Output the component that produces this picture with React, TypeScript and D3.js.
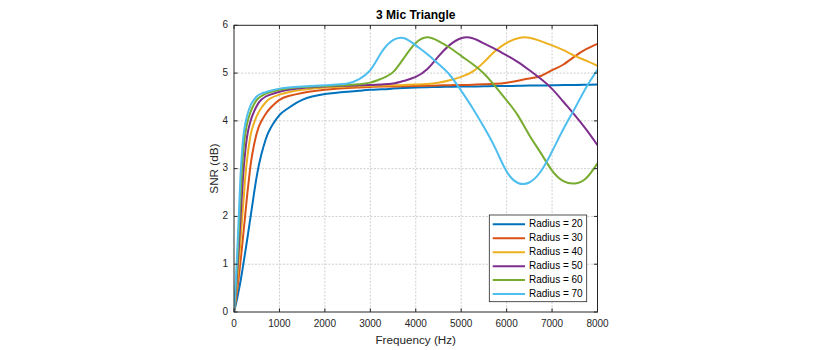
import { useMemo } from "react";
import * as d3 from "d3";

const WIDTH = 814;
const HEIGHT = 350;
const PLOT = { left: 234, right: 597.5, top: 25.3, bottom: 312 };
const FONT = "'Liberation Sans', Arial, Helvetica, sans-serif";
const INK = "#262626";

// Frequency samples (Hz) shared by every curve
const FREQ = [
  0, 25, 50, 75, 100, 125, 150, 200, 250, 300, 350, 400, 500, 600, 700, 800,
  1000, 1200, 1500, 2000, 2500, 2750, 3000, 3250, 3500, 3750, 4000, 4250, 4500,
  4750, 5000, 5250, 5500, 5750, 6000, 6250, 6500, 6750, 7000, 7250, 7500, 7750,
  8000,
];

// SNR (dB) per radius, one value per FREQ entry
const SNR_R20 = [
  0, 0.1, 0.2, 0.31, 0.43, 0.55, 0.68, 0.97, 1.27, 1.58, 1.9, 2.22, 2.84, 3.29,
  3.62, 3.84, 4.12, 4.27, 4.44, 4.56, 4.61, 4.63, 4.65, 4.66, 4.675, 4.69, 4.7,
  4.705, 4.71, 4.715, 4.72, 4.72, 4.725, 4.73, 4.73, 4.735, 4.74, 4.74, 4.745,
  4.75, 4.75, 4.755, 4.76,
];
const SNR_R30 = [
  0, 0.15, 0.31, 0.49, 0.68, 0.9, 1.12, 1.58, 2.06, 2.54, 2.96, 3.29, 3.74,
  3.99, 4.15, 4.27, 4.44, 4.52, 4.585, 4.65, 4.69, 4.7, 4.71, 4.72, 4.72, 4.725,
  4.73, 4.735, 4.74, 4.747, 4.75, 4.758, 4.767, 4.777, 4.8, 4.84, 4.885, 4.94,
  5.06, 5.18, 5.35, 5.5, 5.61,
];
const SNR_R40 = [
  0, 0.2, 0.43, 0.68, 0.97, 1.27, 1.58, 2.22, 2.84, 3.29, 3.62, 3.84, 4.1, 4.27,
  4.39, 4.47, 4.55, 4.6, 4.65, 4.7, 4.72, 4.725, 4.73, 4.74, 4.745, 4.75, 4.76,
  4.773, 4.8, 4.85, 4.92, 5.03, 5.23, 5.46, 5.63, 5.73, 5.74, 5.67, 5.58, 5.48,
  5.36, 5.26, 5.15,
];
const SNR_R50 = [
  0, 0.26, 0.55, 0.9, 1.27, 1.66, 2.06, 2.84, 3.38, 3.74, 3.95, 4.1, 4.31, 4.44,
  4.51, 4.55, 4.61, 4.65, 4.69, 4.72, 4.735, 4.743, 4.75, 4.763, 4.78, 4.84,
  4.92, 5.08, 5.35, 5.59, 5.73, 5.73, 5.62, 5.5, 5.37, 5.23, 5.06, 4.88, 4.67,
  4.4, 4.12, 3.82, 3.49,
];
const SNR_R60 = [
  0, 0.31, 0.68, 1.12, 1.58, 2.06, 2.54, 3.29, 3.74, 3.99, 4.15, 4.27, 4.44,
  4.52, 4.57, 4.6, 4.65, 4.68, 4.71, 4.73, 4.75, 4.767, 4.8, 4.885, 5.02, 5.33,
  5.63, 5.75, 5.67, 5.53, 5.36, 5.19, 4.99, 4.72, 4.43, 4.11, 3.7, 3.33, 2.96,
  2.74, 2.69, 2.8, 3.11,
];
const SNR_R70 = [
  0, 0.37, 0.82, 1.35, 1.9, 2.46, 2.96, 3.62, 3.95, 4.15, 4.29, 4.39, 4.51,
  4.57, 4.6, 4.63, 4.675, 4.7, 4.72, 4.745, 4.78, 4.87, 5.06, 5.44, 5.69, 5.73,
  5.58, 5.4, 5.19, 4.96, 4.63, 4.27, 3.87, 3.43, 2.94, 2.7, 2.71, 2.94, 3.36,
  3.83, 4.26, 4.7, 5.07,
];

const RADII = [20, 30, 40, 50, 60, 70];
const SERIES = [SNR_R20, SNR_R30, SNR_R40, SNR_R50, SNR_R60, SNR_R70];
const COLORS = ["#0072BD", "#D95319", "#EDB120", "#7E2F8E", "#77AC30", "#4DBEEE"];

const X_TICKS = [0, 1000, 2000, 3000, 4000, 5000, 6000, 7000, 8000];
const Y_TICKS = [0, 1, 2, 3, 4, 5, 6];

const TICK_LEN = 3.6;

export default function App() {
  const xScale = useMemo(
    () => d3.scaleLinear().domain([0, 8000]).range([PLOT.left, PLOT.right]),
    []
  );
  const yScale = useMemo(
    () => d3.scaleLinear().domain([0, 6]).range([PLOT.bottom, PLOT.top]),
    []
  );

  const line = d3
    .line<number>()
    .x((_, i) => xScale(FREQ[i]))
    .y((d) => yScale(d))
    .curve(d3.curveNatural);

  const plotW = PLOT.right - PLOT.left;
  const plotH = PLOT.bottom - PLOT.top;

  // legend box
  const legX = 489.3;
  const legY = 215;
  const legW = 97.4;
  const legH = 86.7;
  const rowStep = 13.95;

  return (
    <svg
      width={WIDTH}
      height={HEIGHT}
      style={{ position: "absolute", left: 0, top: 0, background: "#fff" }}
      fontFamily={FONT}
    >
      <defs>
        <clipPath id="plot-clip">
          <rect x={PLOT.left} y={PLOT.top} width={plotW} height={plotH} />
        </clipPath>
      </defs>

      <rect x={PLOT.left} y={PLOT.top} width={plotW} height={plotH} fill="#fff" />

      {/* grid */}
      {X_TICKS.slice(1, -1).map((t) => (
        <line
          key={`gx${t}`}
          x1={xScale(t)}
          x2={xScale(t)}
          y1={PLOT.top}
          y2={PLOT.bottom}
          stroke="#cfcfcf"
          strokeWidth={1}
          strokeDasharray="2 1.5"
        />
      ))}
      {Y_TICKS.slice(1, -1).map((t) => (
        <line
          key={`gy${t}`}
          x1={PLOT.left}
          x2={PLOT.right}
          y1={yScale(t)}
          y2={yScale(t)}
          stroke="#cfcfcf"
          strokeWidth={1}
          strokeDasharray="2 1.5"
        />
      ))}

      {/* curves */}
      <g clipPath="url(#plot-clip)">
        {SERIES.map((vals, i) => (
          <path
            key={RADII[i]}
            d={line(vals) ?? ""}
            fill="none"
            stroke={COLORS[i]}
            strokeWidth={2}
            strokeLinejoin="round"
          />
        ))}
      </g>

      {/* axes box with inward ticks */}
      <rect
        x={PLOT.left}
        y={PLOT.top}
        width={plotW}
        height={plotH}
        fill="none"
        stroke={INK}
        strokeWidth={1}
      />
      {X_TICKS.map((t) => (
        <g key={`tx${t}`}>
          <line
            x1={xScale(t)}
            x2={xScale(t)}
            y1={PLOT.bottom}
            y2={PLOT.bottom - TICK_LEN}
            stroke={INK}
          />
          <line
            x1={xScale(t)}
            x2={xScale(t)}
            y1={PLOT.top}
            y2={PLOT.top + TICK_LEN}
            stroke={INK}
          />
          <text
            x={xScale(t)}
            y={PLOT.bottom + 12.5}
            textAnchor="middle"
            dominantBaseline="middle"
            fontSize={10}
            fill={INK}
          >
            {t}
          </text>
        </g>
      ))}
      {Y_TICKS.map((t) => (
        <g key={`ty${t}`}>
          <line
            x1={PLOT.left}
            x2={PLOT.left + TICK_LEN}
            y1={yScale(t)}
            y2={yScale(t)}
            stroke={INK}
          />
          <line
            x1={PLOT.right}
            x2={PLOT.right - TICK_LEN}
            y1={yScale(t)}
            y2={yScale(t)}
            stroke={INK}
          />
          <text
            x={PLOT.left - 6}
            y={yScale(t)}
            textAnchor="end"
            dominantBaseline="middle"
            fontSize={10}
            fill={INK}
          >
            {t}
          </text>
        </g>
      ))}

      {/* titles */}
      <text
        x={(PLOT.left + PLOT.right) / 2}
        y={16}
        textAnchor="middle"
        dominantBaseline="middle"
        fontSize={12}
        fontWeight="bold"
        fill="#000"
      >
        3 Mic Triangle
      </text>
      <text
        x={(PLOT.left + PLOT.right) / 2}
        y={340.5}
        textAnchor="middle"
        dominantBaseline="middle"
        fontSize={11.7}
        fill={INK}
      >
        Frequency (Hz)
      </text>
      <text
        transform={`translate(214.5,${(PLOT.top + PLOT.bottom) / 2}) rotate(-90)`}
        textAnchor="middle"
        dominantBaseline="middle"
        fontSize={11.7}
        fill={INK}
      >
        SNR (dB)
      </text>

      {/* legend */}
      <g>
        <rect
          x={legX}
          y={legY}
          width={legW}
          height={legH}
          fill="#fff"
          stroke={INK}
          strokeWidth={0.8}
        />
        {RADII.map((r, i) => {
          const cy = legY + 9.3 + i * rowStep;
          return (
            <g key={`lg${r}`}>
              <line
                x1={legX + 3.4}
                x2={legX + 35.7}
                y1={cy}
                y2={cy}
                stroke={COLORS[i]}
                strokeWidth={2}
              />
              <text
                x={legX + 39.7}
                y={cy}
                dominantBaseline="middle"
                fontSize={10}
                fill="#000"
              >
                {`Radius = ${r}`}
              </text>
            </g>
          );
        })}
      </g>
    </svg>
  );
}
